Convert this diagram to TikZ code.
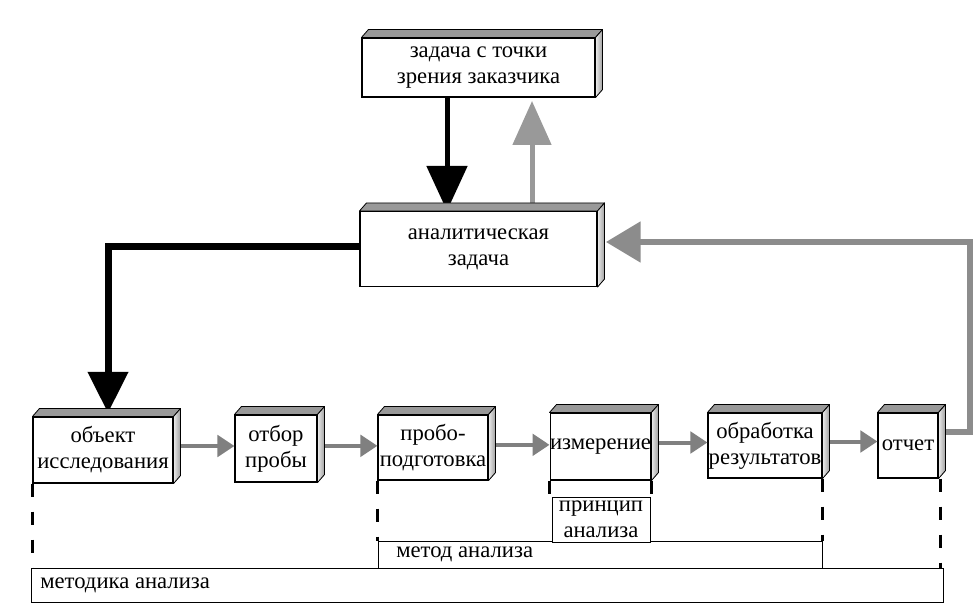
\documentclass[tikz,border=0pt]{standalone}
\usepackage{fontspec}
\setmainfont{Liberation Serif}
\usetikzlibrary{arrows.meta,calc}
\newdimen\pxu \pxu=0.75pt
\begin{document}
\begin{tikzpicture}[x=0.75pt,y=-0.75pt,
  front/.style={draw, line width=0.8pt, fill=white, inner sep=0pt, align=center,
    font=\fontsize{17}{19.5}\selectfont},
  thinbox/.style={draw, line width=0.6pt, fill=white, inner sep=0pt},
  lbl/.style={inner sep=0pt, align=center, font=\fontsize{17}{19.5}\selectfont},
  topface/.style={fill=black!40, draw=black, line width=0.6pt, line join=round},
  rightface/.style={left color=black!8, right color=black!38, draw=black, line width=0.6pt, line join=round},
  dashline/.style={line width=2.2pt, dash pattern=on 9.75pt off 11.25pt},
  smallarrow/.style={draw=black!50, line width=3pt, -{Triangle[length=12.75pt,width=16pt]}, black!50},
  blackarrow/.style={draw=black, line width=3.75pt, -{Triangle[length=33.75pt,width=30pt]}},
  blackarrowL/.style={draw=black, line width=5.25pt, line join=miter, -{Triangle[length=30.75pt,width=29.25pt]}},
  grayarrow/.style={draw=black!40, line width=3.75pt, -{Triangle[length=33pt,width=28.5pt]}, black!40},
  grayarrowR/.style={draw=black!45, line width=4pt, line join=miter, -{Triangle[length=26pt,width=30pt]}, black!45}
]
\useasboundingbox (0,0) rectangle (974,609);

% thin boxes at the bottom
\node[thinbox, anchor=north west, minimum width=912\pxu, minimum height=34\pxu] (metodika) at (31,568) {};
\node[lbl, anchor=west] (metodikatxt) at (40,585) {методика анализа};
\node[thinbox, anchor=north west, minimum width=444\pxu, minimum height=27\pxu] (metod) at (378,541) {};
\node[lbl, anchor=west] (metodtxt) at (396,554.5) {метод анализа};
\node[thinbox, anchor=north west, minimum width=98\pxu, minimum height=45\pxu] (princ) at (552,497) {};
\node[lbl] (princtxt) at (601,519.5) {принцип\\анализа};

% front faces
\node[front, minimum width=233\pxu, minimum height=59\pxu] (top) at (478.5,67.5) {задача с точки\\зрения заказчика};
\node[front, minimum width=237\pxu, minimum height=75\pxu] (ana) at (478.5,249) {аналитическая\\задача};
\node[front, minimum width=140\pxu, minimum height=66\pxu] (obj) at (103,450) {объект\\исследования};
\node[front, minimum width=82\pxu, minimum height=67\pxu] (otb) at (276,448.5) {отбор\\пробы};
\node[front, minimum width=110\pxu, minimum height=65\pxu] (prob) at (433,447.5) {пробо-\\подготовка};
\node[front, minimum width=99\pxu, minimum height=67\pxu] (izm) at (600.5,446.5) {измерение};
\node[front, minimum width=114\pxu, minimum height=65\pxu] (obr) at (765,445.5) {обработка\\результатов};
\node[front, minimum width=60\pxu, minimum height=65\pxu] (otch) at (908,445.5) {отчет};

% dashed vertical lines
\draw[dashline] (obj.south west) -- (obj.south west |- metodika.north);
\draw[dashline] (prob.south west) -- (prob.south west |- metod.north);
\draw[dashline] (obr.south east) -- (obr.south east |- metod.north);
\draw[dashline] ([xshift=1.5pt]otch.south east) -- ([xshift=1.5pt]otch.south east |- metodika.north);
\draw[line width=2.2pt] (izm.south west) -- ++(0,13);
\draw[line width=2.2pt] (izm.south east) -- ++(0,13);

% small arrows between the process boxes
\draw[smallarrow] ([yshift=3pt]obj.east) -- ([yshift=3pt]obj.east -| otb.west);
\draw[smallarrow] ([yshift=2pt]otb.east) -- ([yshift=2pt]otb.east -| prob.west);
\draw[smallarrow] ([yshift=2pt]prob.east) -- ([yshift=2pt]prob.east -| izm.west);
\draw[smallarrow] ([yshift=3pt]izm.east) -- ([yshift=3pt]izm.east -| obr.west);
\draw[smallarrow] ([yshift=3pt]obr.east) -- ([yshift=3pt]obr.east -| otch.west);

% big arrows
\coordinate (tA) at (447,97);
\coordinate (hA) at (447,212);
\draw[blackarrow] (tA |- top.south) -- (hA |- ana.north);
\coordinate (tB) at (532,205);
\coordinate (hB) at (532,101);
\draw[grayarrow] (tB) -- (hB);
\coordinate (lA) at (360,247);
\coordinate (lC) at (108,247);
\coordinate (lT) at (108,413);
\draw[blackarrowL] (ana.west |- lA) -- (lC) -- (lT);
\coordinate (r0) at (940,432);
\coordinate (r1) at (970,432);
\coordinate (r2) at (970,242);
\coordinate (r3) at (606,242);
\draw[grayarrowR] (r0) -- (r1) -- (r2) -- (r3);

% 3D faces
\foreach \n in {top,ana,obj,otb,prob,izm,obr,otch}{
  \filldraw[topface] (\n.north west) -- ++(7,-8) -- ($(\n.north east)+(7,-8)$) -- (\n.north east) -- cycle;
  \filldraw[rightface] (\n.north east) -- ++(7,-8) -- ($(\n.south east)+(7,-8)$) -- (\n.south east) -- cycle;
}
\end{tikzpicture}
\end{document}
